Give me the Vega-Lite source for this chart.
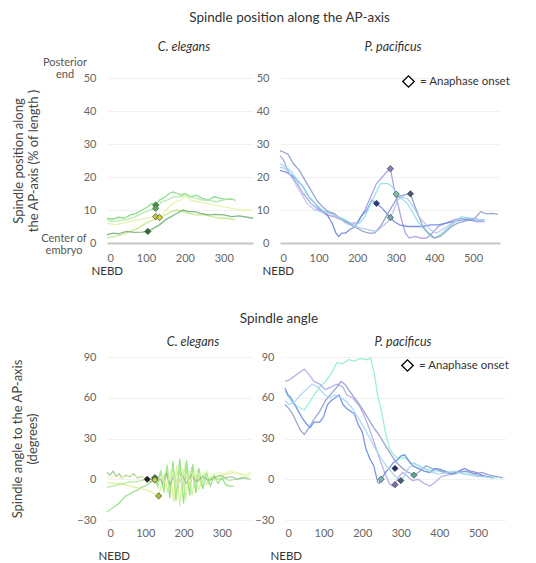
{
"$schema":"https://vega.github.io/schema/vega-lite/v6.json",
"background":"white",
"padding":{"left":11,"top":11,"right":5,"bottom":2},
"config":{
 "view":{"stroke":null},
 "font":"Lato",
 "axis":{"labelFont":"Lato","labelFontSize":11,"labelColor":"#666","titleFont":"Lato","titleFontSize":12.5,"titleFontWeight":"normal","titleColor":"#444","ticks":false,"labelOverlap":false},
 "title":{"font":"Lato","fontWeight":"normal","color":"#333","fontSize":13},
 "legend":{"labelFont":"Lato","labelFontSize":11.5,"labelColor":"#333"}
},
"datasets":{
 "pos_ce":[
  {"s":"a","t":0,"v":7.5},{"s":"a","t":15,"v":7.2},{"s":"a","t":30,"v":7.8},{"s":"a","t":45,"v":7.5},{"s":"a","t":60,"v":8.5},{"s":"a","t":75,"v":9},{"s":"a","t":90,"v":10},{"s":"a","t":105,"v":11},{"s":"a","t":115,"v":12},{"s":"a","t":125,"v":11.5},{"s":"a","t":135,"v":13},{"s":"a","t":150,"v":14},{"s":"a","t":160,"v":15},{"s":"a","t":170,"v":15.5},{"s":"a","t":180,"v":15},{"s":"a","t":190,"v":14.5},{"s":"a","t":200,"v":15},{"s":"a","t":215,"v":14},{"s":"a","t":230,"v":14.5},{"s":"a","t":245,"v":13.5},{"s":"a","t":260,"v":13},{"s":"a","t":275,"v":14},{"s":"a","t":290,"v":13.5},{"s":"a","t":305,"v":13.2},{"s":"a","t":320,"v":13.3},{"s":"a","t":330,"v":13},
  {"s":"b","t":0,"v":7},{"s":"b","t":15,"v":6.5},{"s":"b","t":30,"v":6.8},{"s":"b","t":50,"v":7},{"s":"b","t":70,"v":7.8},{"s":"b","t":90,"v":9},{"s":"b","t":110,"v":10},{"s":"b","t":125,"v":10.5},{"s":"b","t":140,"v":12.5},{"s":"b","t":155,"v":13},{"s":"b","t":170,"v":14},{"s":"b","t":185,"v":14},{"s":"b","t":200,"v":14.5},{"s":"b","t":215,"v":14},{"s":"b","t":230,"v":13.5},{"s":"b","t":245,"v":13},{"s":"b","t":260,"v":13},{"s":"b","t":280,"v":12.5},{"s":"b","t":300,"v":13},{"s":"b","t":315,"v":13.5},{"s":"b","t":330,"v":13},
  {"s":"c","t":0,"v":6},{"s":"c","t":20,"v":5.5},{"s":"c","t":40,"v":6},{"s":"c","t":60,"v":6.5},{"s":"c","t":80,"v":7},{"s":"c","t":100,"v":7.5},{"s":"c","t":125,"v":8},{"s":"c","t":145,"v":9},{"s":"c","t":160,"v":11},{"s":"c","t":175,"v":12.5},{"s":"c","t":190,"v":13},{"s":"c","t":200,"v":14.5},{"s":"c","t":215,"v":13},{"s":"c","t":235,"v":12.5},{"s":"c","t":255,"v":12},{"s":"c","t":275,"v":11.5},{"s":"c","t":300,"v":11},{"s":"c","t":320,"v":10.5},{"s":"c","t":345,"v":10},{"s":"c","t":370,"v":10},
  {"s":"d","t":0,"v":1.5},{"s":"d","t":20,"v":2},{"s":"d","t":40,"v":2.5},{"s":"d","t":60,"v":3.5},{"s":"d","t":80,"v":4.5},{"s":"d","t":100,"v":6},{"s":"d","t":120,"v":7},{"s":"d","t":135,"v":7.7},{"s":"d","t":150,"v":8.5},{"s":"d","t":165,"v":9.5},{"s":"d","t":180,"v":10},{"s":"d","t":195,"v":9.5},{"s":"d","t":210,"v":9},{"s":"d","t":230,"v":8.5},{"s":"d","t":250,"v":8.5},{"s":"d","t":270,"v":8},{"s":"d","t":290,"v":7.5},{"s":"d","t":310,"v":7.5},{"s":"d","t":330,"v":7},
  {"s":"e","t":0,"v":2.5},{"s":"e","t":15,"v":3},{"s":"e","t":30,"v":2.8},{"s":"e","t":50,"v":3.5},{"s":"e","t":70,"v":3.2},{"s":"e","t":90,"v":3.3},{"s":"e","t":105,"v":3.5},{"s":"e","t":120,"v":4.5},{"s":"e","t":135,"v":5.5},{"s":"e","t":150,"v":7},{"s":"e","t":165,"v":8},{"s":"e","t":180,"v":9},{"s":"e","t":195,"v":10},{"s":"e","t":210,"v":9.5},{"s":"e","t":225,"v":9.5},{"s":"e","t":240,"v":9},{"s":"e","t":260,"v":8.5},{"s":"e","t":280,"v":8.7},{"s":"e","t":300,"v":8.5},{"s":"e","t":320,"v":8},{"s":"e","t":340,"v":8.2},{"s":"e","t":360,"v":7.8},{"s":"e","t":375,"v":7.5}
 ],
 "mk_pos_ce":[{"s":"a","t":125,"v":11.5},{"s":"b","t":125,"v":10.5},{"s":"c","t":125,"v":8},{"s":"d","t":135,"v":7.7},{"s":"e","t":105,"v":3.5}],
 "pos_pp":[
  {"s":"p1","t":0,"v":26.5},{"s":"p1","t":10,"v":25},{"s":"p1","t":20,"v":22},{"s":"p1","t":30,"v":20},{"s":"p1","t":45,"v":18},{"s":"p1","t":60,"v":15},{"s":"p1","t":80,"v":12},{"s":"p1","t":100,"v":10},{"s":"p1","t":120,"v":8.5},{"s":"p1","t":140,"v":8},{"s":"p1","t":160,"v":7},{"s":"p1","t":180,"v":6},{"s":"p1","t":200,"v":6},{"s":"p1","t":210,"v":8},{"s":"p1","t":220,"v":10},{"s":"p1","t":235,"v":14},{"s":"p1","t":250,"v":18},{"s":"p1","t":265,"v":20},{"s":"p1","t":280,"v":22},{"s":"p1","t":286,"v":22.5},{"s":"p1","t":295,"v":17},{"s":"p1","t":305,"v":12},{"s":"p1","t":315,"v":7},{"s":"p1","t":325,"v":3},{"s":"p1","t":335,"v":1.5},{"s":"p1","t":350,"v":2},{"s":"p1","t":365,"v":1.5},{"s":"p1","t":380,"v":1.5},{"s":"p1","t":395,"v":3},{"s":"p1","t":410,"v":5},{"s":"p1","t":430,"v":6},{"s":"p1","t":450,"v":7},{"s":"p1","t":470,"v":7.5},{"s":"p1","t":490,"v":7},{"s":"p1","t":510,"v":6.5},{"s":"p1","t":530,"v":6.5},
  {"s":"p2","t":0,"v":22},{"s":"p2","t":15,"v":21.5},{"s":"p2","t":30,"v":20.5},{"s":"p2","t":45,"v":19},{"s":"p2","t":60,"v":17},{"s":"p2","t":75,"v":14},{"s":"p2","t":90,"v":12},{"s":"p2","t":105,"v":10},{"s":"p2","t":120,"v":9},{"s":"p2","t":135,"v":6},{"s":"p2","t":145,"v":3},{"s":"p2","t":152,"v":2},{"s":"p2","t":160,"v":3},{"s":"p2","t":170,"v":3},{"s":"p2","t":180,"v":4},{"s":"p2","t":195,"v":5},{"s":"p2","t":210,"v":8},{"s":"p2","t":225,"v":10},{"s":"p2","t":238,"v":13},{"s":"p2","t":250,"v":12},{"s":"p2","t":265,"v":10.5},{"s":"p2","t":280,"v":8.5},{"s":"p2","t":295,"v":6.5},{"s":"p2","t":310,"v":5.5},{"s":"p2","t":330,"v":5},{"s":"p2","t":350,"v":5},{"s":"p2","t":370,"v":5},{"s":"p2","t":390,"v":5.5},{"s":"p2","t":410,"v":5.5},{"s":"p2","t":430,"v":6},{"s":"p2","t":450,"v":6.5},{"s":"p2","t":470,"v":7},{"s":"p2","t":490,"v":7},{"s":"p2","t":510,"v":7},{"s":"p2","t":530,"v":7},
  {"s":"p3","t":0,"v":24},{"s":"p3","t":15,"v":23},{"s":"p3","t":30,"v":21.5},{"s":"p3","t":45,"v":19},{"s":"p3","t":60,"v":17},{"s":"p3","t":75,"v":14},{"s":"p3","t":90,"v":12},{"s":"p3","t":110,"v":10},{"s":"p3","t":130,"v":9},{"s":"p3","t":150,"v":8},{"s":"p3","t":170,"v":7},{"s":"p3","t":190,"v":5.5},{"s":"p3","t":205,"v":6},{"s":"p3","t":220,"v":8},{"s":"p3","t":235,"v":12},{"s":"p3","t":248,"v":15},{"s":"p3","t":260,"v":18},{"s":"p3","t":280,"v":18},{"s":"p3","t":292,"v":17},{"s":"p3","t":301,"v":14.8},{"s":"p3","t":315,"v":13.5},{"s":"p3","t":330,"v":12},{"s":"p3","t":345,"v":9},{"s":"p3","t":360,"v":6},{"s":"p3","t":375,"v":4},{"s":"p3","t":390,"v":2},{"s":"p3","t":400,"v":1.5},{"s":"p3","t":415,"v":2.5},{"s":"p3","t":430,"v":4},{"s":"p3","t":450,"v":6},{"s":"p3","t":470,"v":8},{"s":"p3","t":490,"v":7.5},{"s":"p3","t":510,"v":7},{"s":"p3","t":530,"v":7},
  {"s":"p4","t":0,"v":28},{"s":"p4","t":10,"v":27.5},{"s":"p4","t":20,"v":27},{"s":"p4","t":35,"v":24},{"s":"p4","t":50,"v":22},{"s":"p4","t":65,"v":19},{"s":"p4","t":80,"v":16},{"s":"p4","t":95,"v":13},{"s":"p4","t":110,"v":11},{"s":"p4","t":125,"v":9.5},{"s":"p4","t":140,"v":9},{"s":"p4","t":155,"v":7.5},{"s":"p4","t":170,"v":6.5},{"s":"p4","t":185,"v":5.5},{"s":"p4","t":200,"v":4.5},{"s":"p4","t":215,"v":3.5},{"s":"p4","t":230,"v":3},{"s":"p4","t":245,"v":3},{"s":"p4","t":260,"v":5},{"s":"p4","t":275,"v":8},{"s":"p4","t":290,"v":11},{"s":"p4","t":305,"v":14},{"s":"p4","t":320,"v":14.5},{"s":"p4","t":338,"v":14.9},{"s":"p4","t":350,"v":11},{"s":"p4","t":360,"v":8},{"s":"p4","t":370,"v":5},{"s":"p4","t":385,"v":3},{"s":"p4","t":400,"v":1.5},{"s":"p4","t":415,"v":2},{"s":"p4","t":430,"v":3.5},{"s":"p4","t":445,"v":5},{"s":"p4","t":460,"v":6},{"s":"p4","t":475,"v":6.5},{"s":"p4","t":490,"v":7},{"s":"p4","t":505,"v":7.5},{"s":"p4","t":520,"v":9.5},{"s":"p4","t":535,"v":8.8},{"s":"p4","t":550,"v":9},{"s":"p4","t":565,"v":8.7},
  {"s":"p5","t":0,"v":23},{"s":"p5","t":15,"v":22.5},{"s":"p5","t":30,"v":20},{"s":"p5","t":50,"v":16},{"s":"p5","t":70,"v":12},{"s":"p5","t":90,"v":10},{"s":"p5","t":110,"v":9.5},{"s":"p5","t":130,"v":9},{"s":"p5","t":150,"v":8},{"s":"p5","t":170,"v":6},{"s":"p5","t":190,"v":5},{"s":"p5","t":210,"v":4.5},{"s":"p5","t":230,"v":4},{"s":"p5","t":250,"v":3.5},{"s":"p5","t":265,"v":5},{"s":"p5","t":280,"v":6.5},{"s":"p5","t":286,"v":7.7},{"s":"p5","t":295,"v":10},{"s":"p5","t":305,"v":13},{"s":"p5","t":315,"v":14},{"s":"p5","t":330,"v":13.5},{"s":"p5","t":345,"v":11},{"s":"p5","t":360,"v":8},{"s":"p5","t":375,"v":6},{"s":"p5","t":390,"v":4},{"s":"p5","t":405,"v":3},{"s":"p5","t":420,"v":4},{"s":"p5","t":440,"v":5.5},{"s":"p5","t":460,"v":7},{"s":"p5","t":480,"v":7.5},{"s":"p5","t":500,"v":7.5},{"s":"p5","t":520,"v":7},{"s":"p5","t":530,"v":6.5}
 ],
 "mk_pos_pp":[{"s":"p1","t":286,"v":22.5},{"s":"p2","t":250,"v":12},{"s":"p3","t":301,"v":14.8},{"s":"p4","t":338,"v":14.9},{"s":"p5","t":286,"v":7.7}],
 "ang_ce":[
  {"s":"a","t":0,"v":-24},{"s":"a","t":10,"v":-22},{"s":"a","t":20,"v":-20},{"s":"a","t":30,"v":-18},{"s":"a","t":40,"v":-15},{"s":"a","t":50,"v":-12},{"s":"a","t":60,"v":-11},{"s":"a","t":70,"v":-9},{"s":"a","t":80,"v":-8},{"s":"a","t":90,"v":-6},{"s":"a","t":100,"v":-5},{"s":"a","t":110,"v":-3},{"s":"a","t":118,"v":-1},{"s":"a","t":125,"v":1.2},{"s":"a","t":132,"v":-4},{"s":"a","t":140,"v":6},{"s":"a","t":148,"v":-9},{"s":"a","t":156,"v":9},{"s":"a","t":164,"v":-14},{"s":"a","t":172,"v":13},{"s":"a","t":180,"v":-16},{"s":"a","t":190,"v":15},{"s":"a","t":200,"v":-18},{"s":"a","t":208,"v":14},{"s":"a","t":216,"v":-12},{"s":"a","t":224,"v":11},{"s":"a","t":232,"v":-10},{"s":"a","t":240,"v":8},{"s":"a","t":250,"v":-7},{"s":"a","t":260,"v":5},{"s":"a","t":270,"v":-5},{"s":"a","t":280,"v":3},{"s":"a","t":290,"v":-3},{"s":"a","t":300,"v":1},{"s":"a","t":310,"v":-4},{"s":"a","t":320,"v":-5},{"s":"a","t":330,"v":-5},
  {"s":"b","t":0,"v":-6},{"s":"b","t":15,"v":-5},{"s":"b","t":30,"v":-4},{"s":"b","t":45,"v":-3},{"s":"b","t":60,"v":-2},{"s":"b","t":75,"v":-2},{"s":"b","t":90,"v":-1},{"s":"b","t":105,"v":0},{"s":"b","t":118,"v":1},{"s":"b","t":125,"v":0},{"s":"b","t":133,"v":-6},{"s":"b","t":141,"v":7},{"s":"b","t":149,"v":-10},{"s":"b","t":157,"v":11},{"s":"b","t":165,"v":-8},{"s":"b","t":173,"v":10},{"s":"b","t":181,"v":-13},{"s":"b","t":189,"v":8},{"s":"b","t":197,"v":-10},{"s":"b","t":205,"v":12},{"s":"b","t":213,"v":-8},{"s":"b","t":221,"v":9},{"s":"b","t":229,"v":-6},{"s":"b","t":237,"v":7},{"s":"b","t":246,"v":-5},{"s":"b","t":255,"v":4},{"s":"b","t":265,"v":-3},{"s":"b","t":275,"v":2},{"s":"b","t":290,"v":0},{"s":"b","t":305,"v":1},{"s":"b","t":320,"v":-1},{"s":"b","t":335,"v":0},{"s":"b","t":350,"v":1},{"s":"b","t":370,"v":2},
  {"s":"c","t":0,"v":-2},{"s":"c","t":15,"v":-3},{"s":"c","t":30,"v":-3},{"s":"c","t":45,"v":-4},{"s":"c","t":60,"v":-5},{"s":"c","t":75,"v":-6},{"s":"c","t":90,"v":-7},{"s":"c","t":105,"v":-8},{"s":"c","t":120,"v":-10},{"s":"c","t":128,"v":-11},{"s":"c","t":135,"v":-12.3},{"s":"c","t":142,"v":-4},{"s":"c","t":150,"v":4},{"s":"c","t":158,"v":-10},{"s":"c","t":166,"v":6},{"s":"c","t":174,"v":-17},{"s":"c","t":182,"v":10},{"s":"c","t":190,"v":-20},{"s":"c","t":198,"v":8},{"s":"c","t":206,"v":-15},{"s":"c","t":214,"v":6},{"s":"c","t":222,"v":-12},{"s":"c","t":230,"v":4},{"s":"c","t":240,"v":-8},{"s":"c","t":250,"v":3},{"s":"c","t":260,"v":-4},{"s":"c","t":272,"v":2},{"s":"c","t":285,"v":-1},{"s":"c","t":300,"v":3},{"s":"c","t":315,"v":4},{"s":"c","t":330,"v":5},{"s":"c","t":345,"v":4},{"s":"c","t":360,"v":3},{"s":"c","t":375,"v":5},
  {"s":"d","t":0,"v":5},{"s":"d","t":8,"v":3},{"s":"d","t":16,"v":6},{"s":"d","t":24,"v":2},{"s":"d","t":32,"v":4},{"s":"d","t":40,"v":1},{"s":"d","t":50,"v":3},{"s":"d","t":60,"v":2},{"s":"d","t":70,"v":4},{"s":"d","t":80,"v":1},{"s":"d","t":90,"v":2},{"s":"d","t":98,"v":1},{"s":"d","t":105,"v":0},{"s":"d","t":115,"v":-2},{"s":"d","t":125,"v":-1},{"s":"d","t":135,"v":2},{"s":"d","t":145,"v":-3},{"s":"d","t":155,"v":4},{"s":"d","t":165,"v":-4},{"s":"d","t":175,"v":3},{"s":"d","t":185,"v":-5},{"s":"d","t":195,"v":4},{"s":"d","t":207,"v":-3},{"s":"d","t":220,"v":3},{"s":"d","t":235,"v":-2},{"s":"d","t":250,"v":2},{"s":"d","t":265,"v":-1},{"s":"d","t":280,"v":1},{"s":"d","t":295,"v":3},{"s":"d","t":310,"v":1},{"s":"d","t":325,"v":2},{"s":"d","t":340,"v":0},{"s":"d","t":355,"v":1},{"s":"d","t":375,"v":0},
  {"s":"e","t":0,"v":1},{"s":"e","t":20,"v":2},{"s":"e","t":40,"v":1},{"s":"e","t":60,"v":3},{"s":"e","t":80,"v":2},{"s":"e","t":100,"v":1},{"s":"e","t":115,"v":0},{"s":"e","t":125,"v":-0.5},{"s":"e","t":140,"v":2},{"s":"e","t":155,"v":-3},{"s":"e","t":170,"v":5},{"s":"e","t":185,"v":-4},{"s":"e","t":200,"v":6},{"s":"e","t":215,"v":-2},{"s":"e","t":230,"v":6},{"s":"e","t":245,"v":3},{"s":"e","t":260,"v":5},{"s":"e","t":275,"v":3},{"s":"e","t":290,"v":5},{"s":"e","t":305,"v":4},{"s":"e","t":320,"v":6},{"s":"e","t":335,"v":5},{"s":"e","t":350,"v":4},{"s":"e","t":375,"v":3}
 ],
 "mk_ang_ce":[{"s":"d","t":105,"v":0},{"s":"a","t":125,"v":1.2},{"s":"b","t":125,"v":0},{"s":"c","t":135,"v":-12.3},{"s":"e","t":125,"v":-0.5}],
 "ang_pp":[
  {"s":"q1","t":0,"v":65},{"s":"q1","t":10,"v":60},{"s":"q1","t":20,"v":56},{"s":"q1","t":35,"v":53},{"s":"q1","t":50,"v":51},{"s":"q1","t":60,"v":55},{"s":"q1","t":75,"v":62},{"s":"q1","t":90,"v":68},{"s":"q1","t":105,"v":72},{"s":"q1","t":120,"v":78},{"s":"q1","t":135,"v":86},{"s":"q1","t":150,"v":85},{"s":"q1","t":165,"v":88},{"s":"q1","t":180,"v":87},{"s":"q1","t":195,"v":89},{"s":"q1","t":210,"v":88},{"s":"q1","t":222,"v":89},{"s":"q1","t":230,"v":80},{"s":"q1","t":240,"v":62},{"s":"q1","t":250,"v":50},{"s":"q1","t":262,"v":32},{"s":"q1","t":272,"v":22},{"s":"q1","t":282,"v":18},{"s":"q1","t":295,"v":15},{"s":"q1","t":310,"v":16},{"s":"q1","t":325,"v":12},{"s":"q1","t":340,"v":11},{"s":"q1","t":355,"v":9},{"s":"q1","t":370,"v":7},{"s":"q1","t":390,"v":6},{"s":"q1","t":410,"v":6},{"s":"q1","t":430,"v":5},{"s":"q1","t":450,"v":5},{"s":"q1","t":470,"v":4},{"s":"q1","t":490,"v":3},{"s":"q1","t":510,"v":2},{"s":"q1","t":530,"v":2},{"s":"q1","t":550,"v":1},
  {"s":"q2","t":0,"v":72},{"s":"q2","t":10,"v":73},{"s":"q2","t":20,"v":75},{"s":"q2","t":35,"v":78},{"s":"q2","t":50,"v":81},{"s":"q2","t":60,"v":78},{"s":"q2","t":75,"v":72},{"s":"q2","t":90,"v":70},{"s":"q2","t":105,"v":66},{"s":"q2","t":120,"v":68},{"s":"q2","t":135,"v":70},{"s":"q2","t":150,"v":68},{"s":"q2","t":160,"v":62},{"s":"q2","t":175,"v":60},{"s":"q2","t":190,"v":55},{"s":"q2","t":200,"v":50},{"s":"q2","t":215,"v":40},{"s":"q2","t":230,"v":28},{"s":"q2","t":245,"v":15},{"s":"q2","t":258,"v":5},{"s":"q2","t":270,"v":-3},{"s":"q2","t":278,"v":-5},{"s":"q2","t":285,"v":-4},{"s":"q2","t":295,"v":2},{"s":"q2","t":305,"v":5},{"s":"q2","t":318,"v":2},{"s":"q2","t":330,"v":-1},{"s":"q2","t":345,"v":0},{"s":"q2","t":360,"v":-3},{"s":"q2","t":375,"v":-5},{"s":"q2","t":390,"v":-2},{"s":"q2","t":405,"v":2},{"s":"q2","t":420,"v":3},{"s":"q2","t":440,"v":4},{"s":"q2","t":460,"v":6},{"s":"q2","t":480,"v":5},{"s":"q2","t":500,"v":3},{"s":"q2","t":520,"v":2},{"s":"q2","t":540,"v":1},
  {"s":"q3","t":0,"v":67},{"s":"q3","t":8,"v":62},{"s":"q3","t":15,"v":60},{"s":"q3","t":25,"v":55},{"s":"q3","t":35,"v":50},{"s":"q3","t":45,"v":45},{"s":"q3","t":55,"v":41},{"s":"q3","t":65,"v":38},{"s":"q3","t":75,"v":42},{"s":"q3","t":90,"v":42},{"s":"q3","t":100,"v":46},{"s":"q3","t":110,"v":55},{"s":"q3","t":120,"v":58},{"s":"q3","t":130,"v":60},{"s":"q3","t":140,"v":62},{"s":"q3","t":150,"v":55},{"s":"q3","t":160,"v":52},{"s":"q3","t":170,"v":50},{"s":"q3","t":180,"v":48},{"s":"q3","t":190,"v":40},{"s":"q3","t":200,"v":35},{"s":"q3","t":210,"v":22},{"s":"q3","t":220,"v":15},{"s":"q3","t":230,"v":10},{"s":"q3","t":240,"v":-2},{"s":"q3","t":245,"v":-3},{"s":"q3","t":250,"v":0},{"s":"q3","t":260,"v":5},{"s":"q3","t":270,"v":8},{"s":"q3","t":280,"v":12},{"s":"q3","t":290,"v":14},{"s":"q3","t":300,"v":17},{"s":"q3","t":310,"v":18},{"s":"q3","t":320,"v":14},{"s":"q3","t":330,"v":10},{"s":"q3","t":345,"v":8},{"s":"q3","t":360,"v":6},{"s":"q3","t":375,"v":5},{"s":"q3","t":390,"v":8},{"s":"q3","t":405,"v":7},{"s":"q3","t":420,"v":5},{"s":"q3","t":435,"v":4},{"s":"q3","t":450,"v":6},{"s":"q3","t":465,"v":8},{"s":"q3","t":480,"v":6},{"s":"q3","t":495,"v":5},{"s":"q3","t":510,"v":3},{"s":"q3","t":525,"v":2},{"s":"q3","t":540,"v":1},
  {"s":"q4","t":0,"v":55},{"s":"q4","t":10,"v":52},{"s":"q4","t":20,"v":48},{"s":"q4","t":30,"v":42},{"s":"q4","t":40,"v":36},{"s":"q4","t":50,"v":33},{"s":"q4","t":60,"v":37},{"s":"q4","t":75,"v":44},{"s":"q4","t":90,"v":50},{"s":"q4","t":105,"v":58},{"s":"q4","t":120,"v":63},{"s":"q4","t":135,"v":68},{"s":"q4","t":145,"v":72},{"s":"q4","t":155,"v":70},{"s":"q4","t":165,"v":66},{"s":"q4","t":175,"v":62},{"s":"q4","t":185,"v":58},{"s":"q4","t":200,"v":52},{"s":"q4","t":215,"v":45},{"s":"q4","t":230,"v":38},{"s":"q4","t":245,"v":32},{"s":"q4","t":260,"v":25},{"s":"q4","t":275,"v":18},{"s":"q4","t":290,"v":12},{"s":"q4","t":305,"v":8},{"s":"q4","t":320,"v":5},{"s":"q4","t":335,"v":3},{"s":"q4","t":350,"v":6},{"s":"q4","t":365,"v":10},{"s":"q4","t":380,"v":8},{"s":"q4","t":395,"v":7},{"s":"q4","t":410,"v":5},{"s":"q4","t":430,"v":4},{"s":"q4","t":450,"v":5},{"s":"q4","t":470,"v":6},{"s":"q4","t":490,"v":4},{"s":"q4","t":510,"v":5},{"s":"q4","t":530,"v":3},{"s":"q4","t":550,"v":2},{"s":"q4","t":565,"v":1},
  {"s":"q5","t":0,"v":58},{"s":"q5","t":10,"v":55},{"s":"q5","t":25,"v":57},{"s":"q5","t":40,"v":62},{"s":"q5","t":55,"v":66},{"s":"q5","t":70,"v":70},{"s":"q5","t":85,"v":68},{"s":"q5","t":100,"v":63},{"s":"q5","t":115,"v":60},{"s":"q5","t":130,"v":62},{"s":"q5","t":145,"v":60},{"s":"q5","t":160,"v":57},{"s":"q5","t":175,"v":52},{"s":"q5","t":190,"v":45},{"s":"q5","t":205,"v":38},{"s":"q5","t":220,"v":30},{"s":"q5","t":235,"v":22},{"s":"q5","t":250,"v":15},{"s":"q5","t":265,"v":9},{"s":"q5","t":280,"v":4},{"s":"q5","t":290,"v":1},{"s":"q5","t":300,"v":-1},{"s":"q5","t":310,"v":3},{"s":"q5","t":320,"v":8},{"s":"q5","t":335,"v":12},{"s":"q5","t":350,"v":9},{"s":"q5","t":365,"v":7},{"s":"q5","t":380,"v":5},{"s":"q5","t":400,"v":4},{"s":"q5","t":420,"v":5},{"s":"q5","t":440,"v":6},{"s":"q5","t":460,"v":4},{"s":"q5","t":480,"v":3},{"s":"q5","t":500,"v":2},{"s":"q5","t":520,"v":2},{"s":"q5","t":540,"v":1}
 ],
 "mk_ang_pp":[{"s":"q3","t":249,"v":0},{"s":"q2","t":285,"v":-4},{"s":"q1","t":285,"v":8},{"s":"q5","t":300,"v":-1},{"s":"q4","t":334,"v":3}]
},
"resolve":{"scale":{"color":"independent","fill":"independent","shape":"independent"}},
"spacing":35,
"vconcat":[
 {
  "title":{"text":"Spindle position along the AP-axis","anchor":"middle","offset":16,"dx":28,"fontSize":13.5},
  "resolve":{"scale":{"color":"independent","fill":"independent","shape":"independent","x":"independent","y":"independent"}},
  "spacing":0,
  "hconcat":[
   {
    "width":146,"height":165,
    "title":{"text":"C. elegans","fontStyle":"italic","fontSize":12.5,"offset":4,"dx":4},
    "layer":[
     {"data":{"name":"pos_ce"},"mark":{"type":"line","strokeWidth":1.3,"opacity":0.9},
      "encoding":{
       "x":{"field":"t","type":"quantitative","scale":{"domain":[0,375],"nice":false},"axis":{"values":[0,100,200,300],"tickCount":10,"grid":false,"domain":true,"domainColor":"#c8c8c8","domainWidth":2,"labelPadding":9,"title":"NEBD","titleAnchor":"start","titleAlign":"left","titleX":-16,"titleY":22,"titleBaseline":"top","titleFontSize":11.5,"titleColor":"#333"}},
       "y":{"field":"v","type":"quantitative","scale":{"domain":[0,50]},"axis":{"values":[0,10,20,30,40,50],"tickCount":10,"domain":false,"gridColor":"#f1f1f1","labelPadding":11,"title":["Spindle position along","the AP-axis (% of length )"],"titlePadding":43,"titleFontSize":13}},
       "color":{"field":"s","type":"nominal","scale":{"domain":["a","b","c","d","e"],"range":["#82d982","#aee8a8","#e6f3a8","#c5e88a","#78b478"]},"legend":null}
      }},
     {"data":{"name":"mk_pos_ce"},"mark":{"type":"point","shape":"diamond","filled":true,"size":40,"stroke":"#444","strokeWidth":0.7,"opacity":1},
      "encoding":{"x":{"field":"t","type":"quantitative"},"y":{"field":"v","type":"quantitative"},
       "fill":{"field":"s","type":"nominal","scale":{"domain":["a","b","c","d","e"],"range":["#3f9f3f","#5ab05a","#b8c850","#d4d030","#2d6e2d"]},"legend":null}}},
     {"data":{"values":[{"t":0,"v":50,"txt":"Posterior\nend"}]},"mark":{"type":"text","lineBreak":"\n","lineHeight":12,"align":"center","baseline":"top","dx":-42,"dy":-21,"fontSize":11,"color":"#555"},
      "encoding":{"x":{"field":"t","type":"quantitative"},"y":{"field":"v","type":"quantitative"},"text":{"field":"txt"}}},
     {"data":{"values":[{"t":0,"v":0,"txt":"Center of\nembryo"}]},"mark":{"type":"text","lineBreak":"\n","lineHeight":12,"align":"center","baseline":"middle","dx":-43,"dy":-4,"fontSize":11,"color":"#555"},
      "encoding":{"x":{"field":"t","type":"quantitative"},"y":{"field":"v","type":"quantitative"},"text":{"field":"txt"}}}
    ]
   },
   {
    "width":220,"height":165,
    "title":{"text":"P. pacificus","fontStyle":"italic","fontSize":12.5,"offset":19,"dx":3},
    "layer":[
     {"data":{"name":"pos_pp"},"mark":{"type":"line","strokeWidth":1.3,"opacity":0.9},
      "encoding":{
       "x":{"field":"t","type":"quantitative","scale":{"domain":[0,570],"nice":false},"axis":{"values":[0,100,200,300,400,500],"tickCount":10,"grid":false,"domain":true,"domainColor":"#c8c8c8","domainWidth":2,"labelPadding":9,"title":"NEBD","titleAnchor":"start","titleAlign":"left","titleX":-18,"titleY":22,"titleBaseline":"top","titleFontSize":11.5,"titleColor":"#333"}},
       "y":{"field":"v","type":"quantitative","scale":{"domain":[0,50]},"axis":{"values":[0,10,20,30,40,50],"tickCount":10,"domain":false,"gridColor":"#f1f1f1","labelPadding":11,"title":null}},
       "color":{"field":"s","type":"nominal","scale":{"domain":["p1","p2","p3","p4","p5"],"range":["#a898e0","#6f86e0","#8ee0e8","#8c9cc4","#b4c4ee"]},"legend":null}
      }},
     {"data":{"name":"mk_pos_pp"},"mark":{"type":"point","filled":true,"size":40,"stroke":"#444","strokeWidth":0.7,"opacity":1},
      "encoding":{"x":{"field":"t","type":"quantitative"},"y":{"field":"v","type":"quantitative"},
       "shape":{"datum":"= Anaphase onset","scale":{"range":["diamond"]},"legend":{"title":null,"orient":"none","legendX":122,"legendY":-3,"padding":0,"symbolSize":130,"symbolStrokeWidth":1.3,"symbolFillColor":"white","symbolStrokeColor":"black","labelOffset":5,"encode":{"symbols":{"update":{"fill":{"value":"white"},"stroke":{"value":"black"},"strokeWidth":{"value":1.3}}}}}},
       "fill":{"field":"s","type":"nominal","scale":{"domain":["p1","p2","p3","p4","p5"],"range":["#8a7ec0","#223a8c","#70c8a0","#4a5a78","#7aa8a8"]},"legend":null}}}
    ]
   }
  ]
 },
 {
  "title":{"text":"Spindle angle","anchor":"middle","offset":10,"dx":18,"fontSize":13.5},
  "resolve":{"scale":{"color":"independent","fill":"independent","shape":"independent","x":"independent","y":"independent"}},
  "spacing":0,
  "hconcat":[
   {
    "width":144,"height":163,
    "title":{"text":"C. elegans","fontStyle":"italic","fontSize":12.5,"offset":3,"dx":14},
    "layer":[
     {"data":{"name":"ang_ce"},"mark":{"type":"line","strokeWidth":1.2,"opacity":0.85},
      "encoding":{
       "x":{"field":"t","type":"quantitative","scale":{"domain":[0,376],"nice":false},"axis":{"values":[0,100,200,300],"tickCount":10,"grid":false,"domain":false,"labelPadding":7,"title":"NEBD","titleAnchor":"start","titleAlign":"left","titleX":-9,"titleY":30,"titleBaseline":"top","titleFontSize":11.5,"titleColor":"#333"}},
       "y":{"field":"v","type":"quantitative","scale":{"domain":[-30,90]},"axis":{"values":[-30,0,30,60,90],"tickCount":10,"domain":false,"gridColor":"#f1f1f1","labelPadding":11,"title":["Spindle angle to the AP-axis","(degrees)"],"titlePadding":37,"titleFontSize":13}},
       "color":{"field":"s","type":"nominal","scale":{"domain":["a","b","c","d","e"],"range":["#7fdc6e","#a9e892","#d5ef8a","#8fbf8a","#ecf6b0"]},"legend":null}
      }},
     {"mark":{"type":"rule","color":"#222","strokeWidth":1.6},"encoding":{"y":{"datum":0}}},
     {"data":{"name":"mk_ang_ce"},"mark":{"type":"point","shape":"diamond","filled":true,"size":40,"stroke":"#444","strokeWidth":0.7,"opacity":1},
      "encoding":{"x":{"field":"t","type":"quantitative"},"y":{"field":"v","type":"quantitative"},
       "fill":{"field":"s","type":"nominal","scale":{"domain":["a","b","c","d","e"],"range":["#3c8f3c","#5cb85c","#b8b830","#222222","#c8c850"]},"legend":null}}}
    ]
   },
   {
    "width":220,"height":163,
    "title":{"text":"P. pacificus","fontStyle":"italic","fontSize":12.5,"offset":3,"dx":8},
    "layer":[
     {"data":{"name":"ang_pp"},"mark":{"type":"line","strokeWidth":1.3,"opacity":0.9},
      "encoding":{
       "x":{"field":"t","type":"quantitative","scale":{"domain":[0,570],"nice":false},"axis":{"values":[0,100,200,300,400,500],"tickCount":10,"grid":false,"domain":false,"labelPadding":7,"title":"NEBD","titleAnchor":"start","titleAlign":"left","titleX":-15,"titleY":30,"titleBaseline":"top","titleFontSize":11.5,"titleColor":"#333"}},
       "y":{"field":"v","type":"quantitative","scale":{"domain":[-30,90]},"axis":{"values":[-30,0,30,60,90],"tickCount":10,"domain":false,"gridColor":"#f1f1f1","labelPadding":11,"title":null}},
       "color":{"field":"s","type":"nominal","scale":{"domain":["q1","q2","q3","q4","q5"],"range":["#92ecd6","#b3a8ea","#6d88e6","#8e9ccc","#a6d6f2"]},"legend":null}
      }},
     {"mark":{"type":"rule","color":"#222","strokeWidth":1.6},"encoding":{"y":{"datum":0}}},
     {"data":{"name":"mk_ang_pp"},"mark":{"type":"point","filled":true,"size":40,"stroke":"#444","strokeWidth":0.7,"opacity":1},
      "encoding":{"x":{"field":"t","type":"quantitative"},"y":{"field":"v","type":"quantitative"},
       "shape":{"datum":"= Anaphase onset","scale":{"range":["diamond"]},"legend":{"title":null,"orient":"none","legendX":116,"legendY":2,"padding":0,"symbolSize":130,"symbolStrokeWidth":1.3,"symbolFillColor":"white","symbolStrokeColor":"black","labelOffset":5,"encode":{"symbols":{"update":{"fill":{"value":"white"},"stroke":{"value":"black"},"strokeWidth":{"value":1.3}}}}}},
       "fill":{"field":"s","type":"nominal","scale":{"domain":["q1","q2","q3","q4","q5"],"range":["#1e2a6e","#7a6ab8","#7ab8b0","#5aa890","#4a6070"]},"legend":null}}}
    ]
   }
  ]
 }
]
}
